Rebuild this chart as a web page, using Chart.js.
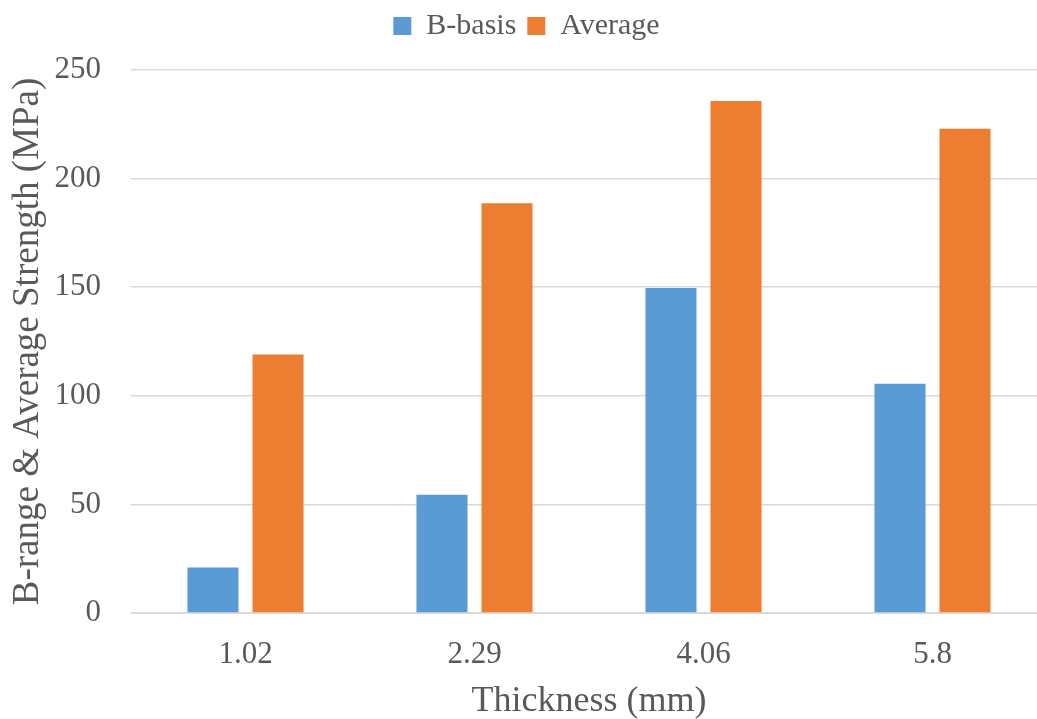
<!DOCTYPE html>
<html lang="en">
<head>
    <meta charset="UTF-8">
    <title>B-basis and Average Strength vs Thickness</title>
    <script src="https://cdn.jsdelivr.net/npm/chart.js"></script>
    <style>
        html, body { margin: 0; padding: 0; background: #fff; overflow: hidden; }
        #wrap { width: 1048px; height: 719px; }
    </style>
</head>
<body>
    <div id="wrap"><canvas id="strengthChart"></canvas></div>

    <script>
        // Thickness categories and strengths (MPa)
        const thickness = ['1.02', '2.29', '4.06', '5.8'];
        const bBasis = [21, 54.5, 149.6, 105.5];
        const average = [119, 188.7, 235.7, 223];

        const textColor = '#595959';
        const gridColor = '#d9d9d9';
        const serif = "'Liberation Serif', 'Times New Roman', serif";

        // extra room under the legend
        const legendSpacer = {
            id: 'legendSpacer',
            beforeInit(chart) {
                const fit = chart.legend.fit;
                chart.legend.fit = function () {
                    fit.bind(chart.legend)();
                    this.height += 19;
                };
            }
        };

        const ctx = document.getElementById('strengthChart').getContext('2d');
        new Chart(ctx, {
            type: 'bar',
            data: {
                labels: thickness,
                datasets: [
                    {
                        label: 'B-basis',
                        data: bBasis,
                        backgroundColor: '#5b9bd5',
                        categoryPercentage: 0.568,
                        barPercentage: 0.785
                    },
                    {
                        label: 'Average',
                        data: average,
                        backgroundColor: '#ed7d31',
                        categoryPercentage: 0.568,
                        barPercentage: 0.785
                    }
                ]
            },
            options: {
                responsive: true,
                maintainAspectRatio: false,
                animation: false,
                layout: { padding: { top: 0, right: 1, bottom: 0, left: 6 } },
                plugins: {
                    legend: {
                        position: 'top',
                        labels: {
                            font: { family: serif, size: 30 },
                            color: textColor,
                            boxWidth: 18,
                            boxHeight: 18,
                            padding: 11
                        }
                    },
                    tooltip: { enabled: false }
                },
                scales: {
                    x: {
                        grid: { display: false },
                        border: { color: gridColor },
                        ticks: {
                            font: { family: serif, size: 31 },
                            color: textColor,
                            padding: 15
                        },
                        title: {
                            display: true,
                            text: 'Thickness (mm)',
                            font: { family: serif, size: 36 },
                            color: textColor,
                            padding: { top: 0, bottom: -4 }
                        },
                        afterFit(scale) { scale.height = 106; }
                    },
                    y: {
                        min: 0,
                        max: 250,
                        grid: { color: gridColor, lineWidth: 1.5, drawTicks: false },
                        border: { display: false },
                        ticks: {
                            stepSize: 50,
                            font: { family: serif, size: 31 },
                            color: textColor,
                            padding: 30
                        },
                        title: {
                            display: true,
                            text: 'B-range & Average Strength (MPa)',
                            font: { family: serif, size: 37 },
                            color: textColor,
                            padding: { top: 0, bottom: 4 }
                        },
                        afterFit(scale) { scale.width = 125; }
                    }
                }
            },
            plugins: [legendSpacer]
        });
    </script>
</body>
</html>
